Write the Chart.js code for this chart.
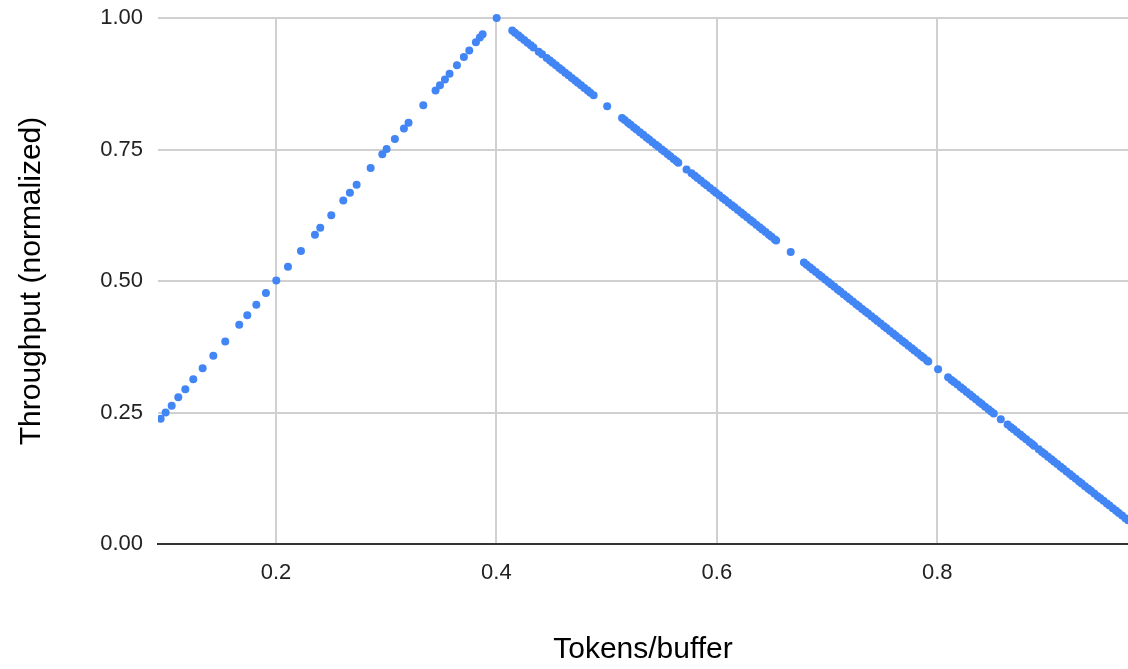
<!DOCTYPE html>
<html>
<head>
<meta charset="utf-8">
<title>Throughput vs tokens/buffer</title>
<script src="https://cdn.jsdelivr.net/npm/chart.js@4/dist/chart.umd.min.js"></script>
<style>
  html, body { margin: 0; padding: 0; background: #fff; }
  #wrap { width: 1128px; height: 669px; }
</style>
</head>
<body>
<div id="wrap"><canvas id="ThroughputChart" width="1128" height="669"></canvas></div>
<script>
// values
const tokensPerBuffer = [
    0.0954, 0.0999, 0.1054, 0.1114, 0.1178, 0.1250, 0.1335, 0.1432, 0.1540, 0.1667,
    0.1740, 0.1822, 0.1909, 0.2003, 0.2109, 0.2227, 0.2354, 0.2402, 0.2502, 0.2611,
    0.2671, 0.2732, 0.2859, 0.2965, 0.3004, 0.3079, 0.3161, 0.3203, 0.3337, 0.3448,
    0.3488, 0.3533, 0.3575, 0.3642, 0.3705, 0.3754, 0.3814, 0.3850, 0.3875, 0.4002,
    // falling side
    0.4144, 0.4168, 0.4198, 0.4222, 0.4252, 0.4282, 0.4312, 0.4336, 0.4384, 0.4414,
    0.4456, 0.4486, 0.4510, 0.4540, 0.4570, 0.4594, 0.4624, 0.4654, 0.4684, 0.4714,
    0.4738, 0.4768, 0.4798, 0.4828, 0.4852, 0.4882,
    0.5005,
    0.5140, 0.5164, 0.5194, 0.5218, 0.5248, 0.5272, 0.5302, 0.5332, 0.5362, 0.5386,
    0.5416, 0.5446, 0.5470, 0.5500, 0.5524, 0.5554, 0.5578, 0.5608, 0.5632, 0.5650,
    0.5725,
    0.5770, 0.5800, 0.5824, 0.5854, 0.5884, 0.5908, 0.5938, 0.5968, 0.5992, 0.6022,
    0.6052, 0.6076, 0.6106, 0.6136, 0.6160, 0.6190, 0.6220, 0.6244, 0.6274, 0.6304,
    0.6328, 0.6358, 0.6388, 0.6412, 0.6442, 0.6472, 0.6496, 0.6526, 0.6538,
    0.6670,
    0.6790, 0.6814, 0.6844, 0.6868, 0.6898, 0.6928, 0.6952, 0.6982, 0.7012, 0.7036,
    0.7066, 0.7096, 0.7120, 0.7150, 0.7180, 0.7204, 0.7234, 0.7264, 0.7288, 0.7318,
    0.7348, 0.7372, 0.7402, 0.7432, 0.7456, 0.7486, 0.7516, 0.7540, 0.7570, 0.7600,
    0.7624, 0.7654, 0.7684, 0.7708, 0.7738, 0.7768, 0.7792, 0.7822, 0.7852, 0.7876,
    0.7906, 0.7918,
    0.8007,
    0.8098, 0.8128, 0.8152, 0.8182, 0.8212, 0.8236, 0.8266, 0.8296, 0.8320, 0.8350,
    0.8380, 0.8404, 0.8434, 0.8464, 0.8488, 0.8512,
    0.8576,
    0.8638, 0.8668, 0.8692, 0.8722, 0.8752, 0.8776, 0.8806, 0.8836, 0.8860, 0.8878,
    0.8920, 0.8950, 0.8974, 0.9004, 0.9034, 0.9058, 0.9088, 0.9118, 0.9142, 0.9172,
    0.9202, 0.9226, 0.9256, 0.9286, 0.9310, 0.9340, 0.9370, 0.9394, 0.9424, 0.9454,
    0.9478, 0.9508, 0.9538, 0.9562, 0.9592, 0.9622, 0.9646, 0.9676, 0.9706, 0.9730
];

const throughput = [
    0.238, 0.250, 0.263, 0.279, 0.294, 0.313, 0.334, 0.358, 0.385, 0.417,
    0.435, 0.455, 0.477, 0.501, 0.527, 0.557, 0.588, 0.601, 0.625, 0.653,
    0.668, 0.683, 0.715, 0.741, 0.751, 0.770, 0.790, 0.801, 0.834, 0.862,
    0.872, 0.883, 0.894, 0.910, 0.926, 0.938, 0.954, 0.963, 0.969, 1.000,
    // falling side
    0.976, 0.972, 0.967, 0.963, 0.958, 0.953, 0.948, 0.944, 0.936, 0.931,
    0.924, 0.919, 0.915, 0.910, 0.905, 0.901, 0.896, 0.891, 0.886, 0.881,
    0.877, 0.872, 0.867, 0.862, 0.858, 0.853,
    0.832,
    0.810, 0.806, 0.801, 0.797, 0.792, 0.788, 0.783, 0.778, 0.773, 0.769,
    0.764, 0.759, 0.755, 0.750, 0.746, 0.741, 0.737, 0.732, 0.728, 0.725,
    0.712,
    0.705, 0.700, 0.696, 0.691, 0.686, 0.682, 0.677, 0.672, 0.668, 0.663,
    0.658, 0.654, 0.649, 0.644, 0.640, 0.635, 0.630, 0.626, 0.621, 0.616,
    0.612, 0.607, 0.602, 0.598, 0.593, 0.588, 0.584, 0.579, 0.577,
    0.555,
    0.535, 0.531, 0.526, 0.522, 0.517, 0.512, 0.508, 0.503, 0.498, 0.494,
    0.489, 0.484, 0.480, 0.475, 0.470, 0.466, 0.461, 0.456, 0.452, 0.447,
    0.442, 0.438, 0.433, 0.428, 0.424, 0.419, 0.414, 0.410, 0.405, 0.400,
    0.396, 0.391, 0.386, 0.382, 0.377, 0.372, 0.368, 0.363, 0.358, 0.354,
    0.349, 0.347,
    0.332,
    0.317, 0.312, 0.308, 0.303, 0.298, 0.294, 0.289, 0.284, 0.280, 0.275,
    0.270, 0.266, 0.261, 0.256, 0.252, 0.248,
    0.237,
    0.227, 0.222, 0.218, 0.213, 0.208, 0.204, 0.199, 0.194, 0.190, 0.187,
    0.180, 0.175, 0.171, 0.166, 0.161, 0.157, 0.152, 0.147, 0.143, 0.138,
    0.133, 0.129, 0.124, 0.119, 0.115, 0.110, 0.105, 0.101, 0.096, 0.091,
    0.087, 0.082, 0.077, 0.073, 0.068, 0.063, 0.059, 0.054, 0.049, 0.045
];

const xTickValues = [0.2, 0.4, 0.6, 0.8];
const yTickValues = [0, 0.25, 0.5, 0.75, 1];
const xLabel = "Tokens/buffer";
const yLabel = "Throughput (normalized)";

function CreateChart() {
    const points = [];
    for (let i = 0; i < tokensPerBuffer.length; i++) {
        points.push({ x: tokensPerBuffer[i], y: throughput[i] });
    }

    const fontFamily = "'Liberation Sans', Arial, sans-serif";
    const textColor = '#222222';
    const gridColor = '#d0d0d0';

    // drop the extra room chart.js keeps for half tick labels
    function noLabelPadding(scale) {
        scale.paddingTop = 0;
        scale.paddingBottom = 0;
        scale.paddingLeft = 0;
        scale.paddingRight = 0;
    }

    var ctx = document.getElementById('ThroughputChart');

    var options = {
        responsive: false,
        animation: false,
        layout: {
            autoPadding: false,
            padding: { top: 18, right: 0, bottom: 0, left: 0 }
        },
        plugins: {
            legend: { display: false },
            tooltip: { enabled: false }
        },
        scales: {
            x: {
                type: 'linear',
                min: 0.093,
                max: 0.973,
                afterBuildTicks: function(scale) {
                    scale.ticks = xTickValues.map(v => ({ value: v }));
                },
                afterFit: function(scale) {
                    scale.height = 125;
                    noLabelPadding(scale);
                },
                grid: {
                    color: gridColor,
                    lineWidth: 2,
                    drawTicks: false
                },
                border: { display: true, color: '#333333', width: 2 },
                ticks: {
                    padding: 16,
                    color: textColor,
                    font: { family: fontFamily, size: 22 },
                    callback: function(value) { return String(value); }
                },
                title: {
                    display: true,
                    text: xLabel,
                    color: '#000',
                    font: { family: fontFamily, size: 30 },
                    padding: { top: 0, bottom: 1 }
                }
            },
            y: {
                type: 'linear',
                min: 0,
                max: 1,
                afterBuildTicks: function(scale) {
                    scale.ticks = yTickValues.map(v => ({ value: v }));
                },
                afterFit: function(scale) {
                    scale.width = 158;
                    noLabelPadding(scale);
                },
                grid: {
                    color: gridColor,
                    lineWidth: 2,
                    drawTicks: false
                },
                border: { display: false },
                ticks: {
                    padding: 15,
                    color: textColor,
                    font: { family: fontFamily, size: 22 },
                    callback: function(value) { return Number(value).toFixed(2); }
                },
                title: {
                    display: true,
                    text: yLabel,
                    color: '#000',
                    font: { family: fontFamily, size: 30 },
                    padding: { top: 14, bottom: 0 }
                }
            }
        }
    };

    var throughputChart = new Chart(ctx, {
        type: 'scatter',
        data: {
            datasets: [
                {
                    label: yLabel,
                    data: points,
                    backgroundColor: '#4285F4',
                    borderColor: '#4285F4',
                    borderWidth: 0,
                    pointRadius: 4,
                    clip: { left: 0, top: 6, right: 0, bottom: 6 }
                }
            ]
        },
        options: options
    });
}

CreateChart();
</script>
</body>
</html>
